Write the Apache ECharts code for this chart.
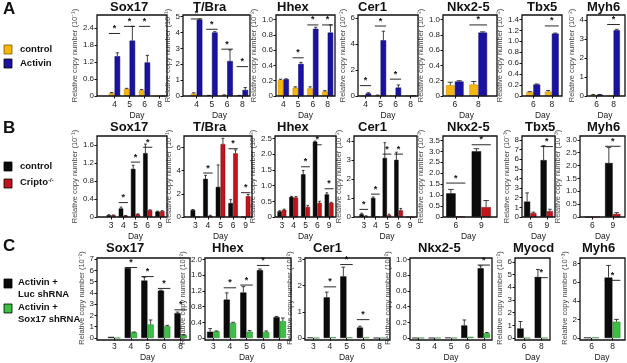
<!DOCTYPE html>
<html><head><meta charset="utf-8">
<script src="https://cdn.jsdelivr.net/npm/echarts@6/dist/echarts.min.js"></script>
<style>html,body{margin:0;padding:0;background:#fff}#c{width:627px;height:363px}</style>
</head><body><div id="c"></div>
<script>
// ===== Row A: control vs Activin =====
const A_sox17_days=['4','5','6','8'];
const A_sox17_ctrl=[0.1,0.25,0.2,0];
const A_sox17_act=[1.4,1.95,1.18,0];
const A_sox17_ctrlErr=[0.02,0.02,0.03,0];
const A_sox17_actErr=[0.12,0.5,0.25,0];
const A_sox17_sig=[2.2,2.45,2.45,null];

const A_tbra_days=['4','5','6','8'];
const A_tbra_ctrl=[0.15,0.03,0.05,0.03];
const A_tbra_act=[4.8,4.0,2.2,0.38];
const A_tbra_ctrlErr=[0.05,0.01,0.02,0.01];
const A_tbra_actErr=[0.05,0.05,0.7,0.15];
const A_tbra_sig=[4.85,4.2,2.95,1.85];

const A_hhex_days=['4','5','6','8'];
const A_hhex_ctrl=[0.21,0.11,0.1,0.06];
const A_hhex_act=[0.22,0.42,0.88,0.83];
const A_hhex_ctrlErr=[0.01,0.01,0.02,0.01];
const A_hhex_actErr=[0.005,0.02,0.02,0.1];
const A_hhex_sig=[null,0.5,0.93,0.93];

const A_cer1_days=['4','5','6','8'];
const A_cer1_ctrl=[0.02,0.05,0.02,0.02];
const A_cer1_act=[0.2,4.3,0.65,0.03];
const A_cer1_ctrlErr=[0,0.02,0,0];
const A_cer1_actErr=[0.05,0.7,0.2,0];
const A_cer1_sig=[0.8,5.4,1.3,null];

const A_nkx_days=['6','8'];
const A_nkx_ctrl=[0.14,0.15];
const A_nkx_act=[0.19,0.83];
const A_nkx_ctrlErr=[0.04,0.04];
const A_nkx_actErr=[0.01,0.01];
const A_nkx_sig=[null,0.93];

const A_tbx5_days=['6','8'];
const A_tbx5_ctrl=[0.07,0.08];
const A_tbx5_act=[0.21,1.14];
const A_tbx5_ctrlErr=[0.01,0.02];
const A_tbx5_actErr=[0.01,0.01];
const A_tbx5_sig=[null,1.28];

const A_myh6_days=['6','8'];
const A_myh6_ctrl=[0.05,0.02];
const A_myh6_act=[0.07,3.45];
const A_myh6_ctrlErr=[0.03,0];
const A_myh6_actErr=[0.01,0.05];
const A_myh6_sig=[null,3.75];

// ===== Row B: control vs Cripto-/- =====
const B_sox17_days=['3','4','5','6','9'];
const B_sox17_ctrl=[0.04,0.19,1.07,1.42,0.12];
const B_sox17_cripto=[0.04,0.03,0.06,0.15,0.13];
const B_sox17_ctrlErr=[0.01,0.03,0.08,0.2,0.01];
const B_sox17_criptoErr=[0.005,0.005,0.01,0.01,0.01];
const B_sox17_sig=[null,0.32,1.22,1.55,null];

const B_tbra_days=['3','4','5','6','9'];
const B_tbra_ctrl=[0.6,3.3,2.6,1.2,0];
const B_tbra_cripto=[0,0.1,6.3,5.5,1.8];
const B_tbra_ctrlErr=[0.05,0.3,1.9,0.3,0];
const B_tbra_criptoErr=[0,0.05,0.5,0.3,0.15];
const B_tbra_sig=[null,3.8,null,5.9,2.1];

const B_hhex_days=['3','4','5','6','9'];
const B_hhex_ctrl=[0.18,0.64,1.36,2.4,0.72];
const B_hhex_cripto=[0.23,0.62,0.32,0.45,0.45];
const B_hhex_ctrlErr=[0.02,0.02,0.12,0.02,0.05];
const B_hhex_criptoErr=[0.02,0.03,0.05,0.05,0.02];
const B_hhex_sig=[null,null,1.6,2.3,0.9];

const B_cer1_days=['3','4','5','6','9'];
const B_cer1_ctrl=[0.15,1.0,3.1,3.0,0];
const B_cer1_cripto=[0.05,0.02,0.1,0.35,0];
const B_cer1_ctrlErr=[0.05,0.05,0.8,0.4,0];
const B_cer1_criptoErr=[0.01,0,0.05,0.1,0];
const B_cer1_sig=[0.4,1.2,3.3,3.3,null];

const B_nkx_days=['6','9'];
const B_nkx_ctrl=[1.08,3.0];
const B_nkx_cripto=[0.02,0.45];
const B_nkx_ctrlErr=[0.18,0.12];
const B_nkx_criptoErr=[0,0.3];
const B_nkx_sig=[1.55,3.3];

const B_tbx5_days=['6','9'];
const B_tbx5_ctrl=[1.6,5.9];
const B_tbx5_cripto=[0.4,0.6];
const B_tbx5_ctrlErr=[0.9,1.5];
const B_tbx5_criptoErr=[0.1,0.2];
const B_tbx5_sig=[null,7.3];

const B_myh6_days=['6','9'];
const B_myh6_ctrl=[0,2.1];
const B_myh6_cripto=[0,0.12];
const B_myh6_ctrlErr=[0,0.6];
const B_myh6_criptoErr=[0,0.05];
const B_myh6_sig=[null,2.75];

// ===== Row C: Activin + Luc shRNA vs Activin + Sox17 shRNA =====
const C_sox17_days=['3','4','5','6','8'];
const C_sox17_luc=[0.1,6.2,5.1,4.2,2.2];
const C_sox17_kd=[0,0.5,1.2,1.05,0.25];
const C_sox17_lucErr=[0,0.05,0.3,0.05,0.1];
const C_sox17_kdErr=[0,0.03,0.4,0.08,0.03];
const C_sox17_sig=[null,6.25,5.45,4.4,2.5];

const C_hhex_days=['3','4','5','6','8'];
const C_hhex_luc=[0.16,0.98,1.16,1.73,0.53];
const C_hhex_kd=[0.17,0.38,0.16,0.15,0.43];
const C_hhex_lucErr=[0.08,0.17,0.15,0.03,0.02];
const C_hhex_kdErr=[0.01,0.02,0.03,0.03,0.08];
const C_hhex_sig=[null,1.28,1.35,1.85,null];

const C_cer1_days=['3','4','5','6','8'];
const C_cer1_luc=[0.02,1.55,2.35,0.4,0];
const C_cer1_kd=[0,0.03,0.02,0.02,0];
const C_cer1_lucErr=[0,0.2,0.35,0.05,0];
const C_cer1_kdErr=[0,0,0,0,0];
const C_cer1_sig=[null,1.95,2.8,0.7,null];

const C_nkx_days=['3','4','5','6','8'];
const C_nkx_luc=[0,0,0.005,0.16,0.89];
const C_nkx_kd=[0,0,0,0.015,0.06];
const C_nkx_lucErr=[0,0,0,0.07,0.03];
const C_nkx_kdErr=[0,0,0,0,0.01];
const C_nkx_sig=[null,null,null,null,0.93];

const C_myocd_days=['6','8'];
const C_myocd_luc=[0.75,4.8];
const C_myocd_kd=[0,0];
const C_myocd_lucErr=[0.55,0.6];
const C_myocd_kdErr=[0,0];
const C_myocd_sig=[null,4.75];

const C_myh6_days=['6','8'];
const C_myh6_luc=[0.05,6.5];
const C_myh6_kd=[0.05,1.75];
const C_myh6_lucErr=[0,1.3];
const C_myh6_kdErr=[0,0.25];
const C_myh6_sig=[null,6.2];

// ===== Layout / styling =====
const FONT='Liberation Sans, Arial, sans-serif';
const CAT_GAP=0.25, GAP=0.03;
const rowY={A:[15,96],B:[136,217],C:[258,340]};
const titleY={A:8,B:128,C:249};
const colors={A:['#F6B60C','#1A12A0'],B:['#0b0b0b','#C2141C'],C:['#0b0b0b','#3CBF45']};
const borders={A:['#C98A00','#0C0870'],B:['#000','#7a0a0e'],C:['#000','#1f7a25']};

// f: frame [left,right]; c: category band region [left,right]
const panels=[
 {r:'A',t:'Sox17',e:'⁻¹',d:A_sox17_days,s:[A_sox17_ctrl,A_sox17_act],er:[A_sox17_ctrlErr,A_sox17_actErr],sig:A_sox17_sig,max:2.85,iv:0.6,dec:1,f:[97,167],c:[107,167],tx:110},
 {r:'A',t:'T/Bra',e:'⁻¹',d:A_tbra_days,s:[A_tbra_ctrl,A_tbra_act],er:[A_tbra_ctrlErr,A_tbra_actErr],sig:A_tbra_sig,max:5.1,iv:1,dec:0,f:[183,250],c:[189,250],tx:193},
 {r:'A',t:'Hhex',e:'⁻²',d:A_hhex_days,s:[A_hhex_ctrl,A_hhex_act],er:[A_hhex_ctrlErr,A_hhex_actErr],sig:A_hhex_sig,max:1.06,iv:0.2,dec:1,f:[276,335],c:[276,335],tx:277},
 {r:'A',t:'Cer1',e:'⁻²',d:A_cer1_days,s:[A_cer1_ctrl,A_cer1_act],er:[A_cer1_ctrlErr,A_cer1_actErr],sig:A_cer1_sig,max:6.25,iv:2,dec:0,f:[358,418],c:[358,418],tx:358},
 {r:'A',t:'Nkx2-5',e:'⁻²',d:A_nkx_days,s:[A_nkx_ctrl,A_nkx_act],er:[A_nkx_ctrlErr,A_nkx_actErr],sig:A_nkx_sig,max:1.06,iv:0.2,dec:1,f:[443,497],c:[443,490],tx:447},
 {r:'A',t:'Tbx5',e:'⁻²',d:A_tbx5_days,s:[A_tbx5_ctrl,A_tbx5_act],er:[A_tbx5_ctrlErr,A_tbx5_actErr],sig:A_tbx5_sig,max:1.48,iv:0.2,dec:1,f:[522,562],c:[524,561],tx:527},
 {r:'A',t:'Myh6',e:'⁻²',d:A_myh6_days,s:[A_myh6_ctrl,A_myh6_act],er:[A_myh6_ctrlErr,A_myh6_actErr],sig:A_myh6_sig,max:4.25,iv:1,dec:0,f:[587,625],c:[588,622],tx:587},

 {r:'B',t:'Sox17',e:'⁻¹',d:B_sox17_days,s:[B_sox17_ctrl,B_sox17_cripto],er:[B_sox17_ctrlErr,B_sox17_criptoErr],sig:B_sox17_sig,max:1.8,iv:0.4,dec:1,f:[97,167],c:[105,166],tx:110},
 {r:'B',t:'T/Bra',e:'⁻¹',d:B_tbra_days,s:[B_tbra_ctrl,B_tbra_cripto],er:[B_tbra_ctrlErr,B_tbra_criptoErr],sig:B_tbra_sig,max:7,iv:2,dec:0,f:[184,252],c:[189,252],tx:193},
 {r:'B',t:'Hhex',e:'⁻²',d:B_hhex_days,s:[B_hhex_ctrl,B_hhex_cripto],er:[B_hhex_ctrlErr,B_hhex_criptoErr],sig:B_hhex_sig,max:2.58,iv:0.5,dec:1,f:[275,336],c:[276,335],tx:277},
 {r:'B',t:'Cer1',e:'⁻²',d:B_cer1_days,s:[B_cer1_ctrl,B_cer1_cripto],er:[B_cer1_ctrlErr,B_cer1_criptoErr],sig:B_cer1_sig,max:4.25,iv:1,dec:0,f:[354,417],c:[358,416],tx:358},
 {r:'B',t:'Nkx2-5',e:'⁻³',d:B_nkx_days,s:[B_nkx_ctrl,B_nkx_cripto],er:[B_nkx_ctrlErr,B_nkx_criptoErr],sig:B_nkx_sig,max:3.7,iv:0.5,dec:1,f:[443,497],c:[443,494],tx:447},
 {r:'B',t:'Tbx5',e:'⁻³',d:B_tbx5_days,s:[B_tbx5_ctrl,B_tbx5_cripto],er:[B_tbx5_ctrlErr,B_tbx5_criptoErr],sig:B_tbx5_sig,max:8.4,iv:1,dec:0,f:[522,555],c:[522,555],tx:525},
 {r:'B',t:'Myh6',e:'⁻³',d:B_myh6_days,s:[B_myh6_ctrl,B_myh6_cripto],er:[B_myh6_ctrlErr,B_myh6_criptoErr],sig:B_myh6_sig,max:3.15,iv:0.5,dec:1,f:[580,625],c:[582,623],tx:587},

 {r:'C',t:'Sox17',e:'⁻²',d:C_sox17_days,s:[C_sox17_luc,C_sox17_kd],er:[C_sox17_lucErr,C_sox17_kdErr],sig:C_sox17_sig,max:7.1,iv:1,dec:0,f:[97,190],c:[106,189],tx:106},
 {r:'C',t:'Hhex',e:'⁻²',d:C_hhex_days,s:[C_hhex_luc,C_hhex_kd],er:[C_hhex_lucErr,C_hhex_kdErr],sig:C_hhex_sig,max:2.04,iv:0.4,dec:1,f:[205,291],c:[205,288],tx:212},
 {r:'C',t:'Cer1',e:'⁻²',d:C_cer1_days,s:[C_cer1_luc,C_cer1_kd],er:[C_cer1_lucErr,C_cer1_kdErr],sig:C_cer1_sig,max:3.05,iv:1,dec:0,f:[305,390],c:[305,388],tx:313},
 {r:'C',t:'Nkx2-5',e:'⁻²',d:C_nkx_days,s:[C_nkx_luc,C_nkx_kd],er:[C_nkx_lucErr,C_nkx_kdErr],sig:C_nkx_sig,max:1.02,iv:0.2,dec:1,f:[410,492],c:[410,492],tx:418},
 {r:'C',t:'Myocd',e:'⁻²',d:C_myocd_days,s:[C_myocd_luc,C_myocd_kd],er:[C_myocd_lucErr,C_myocd_kdErr],sig:C_myocd_sig,max:6.3,iv:1,dec:0,f:[515,550],c:[515,550],tx:513},
 {r:'C',t:'Myh6',e:'⁻³',d:C_myh6_days,s:[C_myh6_luc,C_myh6_kd],er:[C_myh6_lucErr,C_myh6_kdErr],sig:C_myh6_sig,max:8.6,iv:2,dec:0,f:[580,625],c:[581,623],tx:582}
];

function barGeom(api){
  const band=api.size([1,0])[0];
  const bw=band*(1-CAT_GAP)/(2+GAP);
  return {bw, off: bw*(1+GAP)/2};
}
function errRender(params, api){
  const ci=api.value(0), v=api.value(1), e=api.value(2), side=api.value(3);
  if(!(e>0)) return;
  const g=barGeom(api);
  const p0=api.coord([ci,v]), p1=api.coord([ci,v+e]);
  const x=p0[0]+(side===0?-g.off:g.off);
  const cap=Math.max(1.2,g.bw*0.3);
  const st={stroke:'#111',lineWidth:0.8};
  return {type:'group',children:[
    {type:'line',shape:{x1:x,y1:p0[1],x2:x,y2:p1[1]},style:st},
    {type:'line',shape:{x1:x-cap,y1:p1[1],x2:x+cap,y2:p1[1]},style:st}
  ]};
}
function sigRender(params, api){
  const ci=api.value(0), h=api.value(1);
  const g=barGeom(api);
  const p=api.coord([ci,h]);
  const half=g.off+g.bw/2;
  return {type:'group',children:[
    {type:'line',shape:{x1:p[0]-half,y1:p[1],x2:p[0]+half,y2:p[1]},style:{stroke:'#111',lineWidth:0.9}},
    {type:'text',style:{text:'*',x:p[0],y:p[1]-0.5,textAlign:'center',textVerticalAlign:'bottom',font:'bold 9px '+FONT,fill:'#111'}}
  ]};
}

const grid=[],xAxis=[],yAxis=[],series=[],graphic=[];
panels.forEach((p,i)=>{
  const [y0,y1]=rowY[p.r];
  const padL=p.c[0]-p.f[0];
  grid.push({left:p.c[0],top:y0,width:p.c[1]-p.c[0],height:y1-y0,show:false,containLabel:false});
  xAxis.push({type:'category',gridIndex:i,data:p.d,name:'Day',nameLocation:'middle',nameGap:15,
    nameTextStyle:{fontSize:8.5,color:'#222',fontFamily:FONT},
    axisLine:{show:false},
    axisTick:{show:true,alignWithLabel:true,length:2.5,lineStyle:{color:'#111'}},
    axisLabel:{fontSize:8.5,color:'#222',margin:4,fontFamily:FONT}});
  const iv=p.iv, dec=p.dec;
  yAxis.push({type:'value',gridIndex:i,min:0,max:p.max,interval:iv,offset:padL,
    name:'Relative copy number (10'+p.e+')',nameLocation:'middle',nameRotate:90,
    nameGap:(p.dec?14:9),nameTextStyle:{fontSize:7.5,color:'#444',fontFamily:FONT},
    splitLine:{show:false},
    axisLine:{show:false},
    axisTick:{show:true,length:2.5,lineStyle:{color:'#111'}},
    axisLabel:{fontSize:8,color:'#222',margin:3,fontFamily:FONT,showMaxLabel:false,
      formatter:v=>{const k=v/iv; if(Math.abs(k-Math.round(k))>1e-6) return ''; return v===0?'0':v.toFixed(dec);}}});
  [0,1].forEach(si=>{
    series.push({type:'bar',xAxisIndex:i,yAxisIndex:i,data:p.s[si],barCategoryGap:(CAT_GAP*100)+'%',barGap:(GAP*100)+'%',
      itemStyle:{color:colors[p.r][si],borderColor:borders[p.r][si],borderWidth:0.5},silent:true,animation:false});
  });
  const errData=[];
  [0,1].forEach(si=>p.er[si].forEach((e,ci)=>errData.push([ci,p.s[si][ci],e,si])));
  series.push({type:'custom',xAxisIndex:i,yAxisIndex:i,data:errData,renderItem:errRender,silent:true,animation:false,z:3});
  const sigData=[];
  p.sig.forEach((h,ci)=>{ if(h!=null) sigData.push([ci,h]); });
  series.push({type:'custom',xAxisIndex:i,yAxisIndex:i,data:sigData,renderItem:sigRender,silent:true,animation:false,z:4,clip:false});
  // frame
  graphic.push({type:'rect',z:100,shape:{x:p.f[0],y:y0,width:p.f[1]-p.f[0],height:y1-y0},style:{fill:'none',stroke:'#111',lineWidth:1.3}});
  graphic.push({type:'text',left:p.tx,top:titleY[p.r]-7,style:{text:p.t,font:'bold 13px '+FONT,fill:'#111'}});
});

// panel letters
[['A',1],['B',120],['C',238]].forEach(([l,y])=>graphic.push({type:'text',left:3,top:y,style:{text:l,font:'bold 17px '+FONT,fill:'#111'}}));
// legends
function legendBox(x,y,c,bc){return {type:'rect',shape:{x:x,y:y,width:8,height:9},style:{fill:c,stroke:bc,lineWidth:0.8}};}
graphic.push(legendBox(4,45,colors.A[0],'#7a5a00'));
graphic.push({type:'text',left:20,top:44,style:{text:'control',font:'bold 9.5px '+FONT,fill:'#111'}});
graphic.push(legendBox(4,59,colors.A[1],'#000'));
graphic.push({type:'text',left:20,top:58,style:{text:'Activin',font:'bold 9.5px '+FONT,fill:'#111'}});
graphic.push(legendBox(4,162,colors.B[0],'#000'));
graphic.push({type:'text',left:20,top:161,style:{text:'control',font:'bold 9.5px '+FONT,fill:'#111'}});
graphic.push(legendBox(4,179,colors.B[1],'#000'));
graphic.push({type:'text',left:20,top:177,style:{text:'{a|Cripto}{b|-/-}',rich:{a:{font:'bold 9.5px '+FONT,fill:'#111'},b:{font:'bold 6px '+FONT,fill:'#111',verticalAlign:'top',padding:[0,0,5,0]}}}});
graphic.push(legendBox(4,279,colors.C[0],'#000'));
graphic.push({type:'text',left:18,top:277,style:{text:'Activin +\nLuc shRNA',font:'bold 9.5px '+FONT,lineHeight:11.5,fill:'#111'}});
graphic.push(legendBox(4,304,colors.C[1],'#000'));
graphic.push({type:'text',left:18,top:302,style:{text:'Activin +\nSox17 shRNA',font:'bold 9.5px '+FONT,lineHeight:11.5,fill:'#111'}});

const chart=echarts.init(document.getElementById('c'),null,{renderer:'canvas'});
chart.setOption({animation:false,backgroundColor:'#fff',textStyle:{fontFamily:FONT},grid,xAxis,yAxis,series,graphic});
</script></body></html>
